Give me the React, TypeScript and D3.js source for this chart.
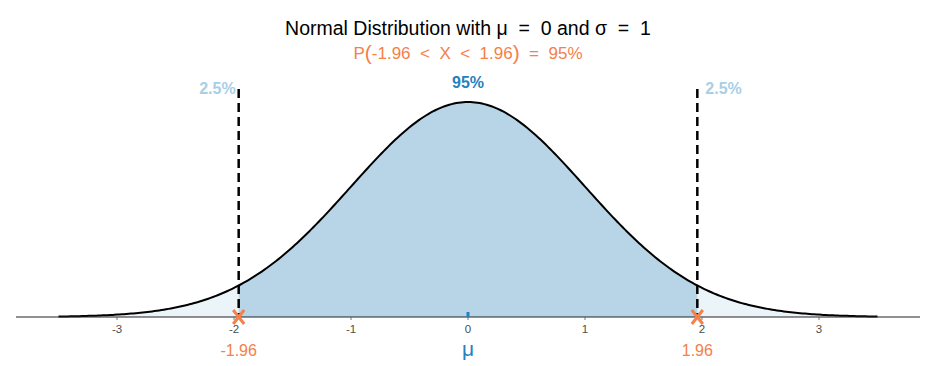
import * as d3 from "d3";

const curveXs = d3.range(-3.5, 3.5001, 0.02);
const critical = [-1.96, 1.96];
const xTicks = [-3, -2, -1, 0, 1, 2, 3];
const tailLabels = ["2.5%", "2.5%"];
const centerLabel = "95%";
const criticalLabels = ["-1.96", "1.96"];

const W = 933;
const H = 366;
const orange = "#f4804a";
const blue = "#2581bd";
const lightBlue = "#a8cfe6";

const dnorm = (x: number) => Math.exp(-0.5 * x * x) / Math.sqrt(2 * Math.PI);

export default function App() {
  const x = d3.scaleLinear().domain([-3, 3]).range([117, 819]);
  const y = d3.scaleLinear().domain([0, dnorm(0)]).range([317, 102]);

  const area = d3
    .area<number>()
    .x((d) => x(d))
    .y0(y(0))
    .y1((d) => y(dnorm(d)));
  const line = d3
    .line<number>()
    .x((d) => x(d))
    .y((d) => y(dnorm(d)));

  const left = curveXs.filter((d) => d <= critical[0]).concat([critical[0]]);
  const mid = [critical[0]].concat(curveXs.filter((d) => d > critical[0] && d < critical[1]), [critical[1]]);
  const right = [critical[1]].concat(curveXs.filter((d) => d >= critical[1]));

  const font = "'Liberation Sans', Arial, sans-serif";

  return (
    <svg width={W} height={H} style={{ position: "absolute", left: 0, top: 0 }} fontFamily={font}>
      <rect width={W} height={H} fill="#fff" />
      <path d={area(left) ?? ""} fill="#ebf4f9" />
      <path d={area(right) ?? ""} fill="#ebf4f9" />
      <path d={area(mid) ?? ""} fill="#b7d5e7" />
      <path d={line(curveXs) ?? ""} fill="none" stroke="#000" strokeWidth={2} />

      <line x1={16} x2={920} y1={y(0)} y2={y(0)} stroke="#222" strokeWidth={1} />
      {xTicks.map((t) => (
        <g key={t} transform={`translate(${x(t)},${y(0)})`}>
          <line y1={0} y2={3} stroke="#555" strokeWidth={0.8} />
          <text y={16} textAnchor="middle" fontSize={11.5} fill="#4d4d4d">
            {t}
          </text>
        </g>
      ))}

      {critical.map((c) => (
        <line
          key={c}
          x1={x(c)}
          x2={x(c)}
          y1={89}
          y2={y(0)}
          stroke="#000"
          strokeWidth={2.5}
          strokeDasharray="9,5"
        />
      ))}

      {critical.map((c) => {
        const cx = x(c);
        const cy = y(0);
        return (
          <g key={"x" + c} stroke={orange} strokeWidth={3}>
            <line x1={cx - 5.5} x2={cx + 5.5} y1={cy - 7} y2={cy + 7} />
            <line x1={cx - 5.5} x2={cx + 5.5} y1={cy + 7} y2={cy - 7} />
          </g>
        );
      })}

      <rect x={x(0) - 1.5} y={y(0) - 5} width={3} height={5} fill={blue} />

      {criticalLabels.map((l, i) => (
        <text key={l} x={x(critical[i])} y={356} textAnchor="middle" fontSize={16} fill={orange}>
          {l}
        </text>
      ))}
      <text x={x(0)} y={356} textAnchor="middle" fontSize={21} fill={blue}>
        μ
      </text>

      <text x={x(critical[0]) - 3} y={94} textAnchor="end" fontSize={16} fontWeight="bold" fill={lightBlue}>
        {tailLabels[0]}
      </text>
      <text x={x(critical[1]) + 8} y={94} textAnchor="start" fontSize={16} fontWeight="bold" fill={lightBlue}>
        {tailLabels[1]}
      </text>
      <text x={x(0)} y={88} textAnchor="middle" fontSize={16} fontWeight="bold" fill={blue}>
        {centerLabel}
      </text>

      <text x={468} y={35} textAnchor="middle" fontSize={19.5} fill="#000" style={{ whiteSpace: "pre" }}>
        {"Normal Distribution with μ  =  0 and σ  =  1"}
      </text>
      <text x={468} y={59} textAnchor="middle" fontSize={17} fill={orange} style={{ whiteSpace: "pre" }}>
        P<tspan fontSize={21} dy={1}>(</tspan>
        <tspan dy={-1}>{"-1.96  <  X  <  1.96"}</tspan>
        <tspan fontSize={21} dy={1}>)</tspan>
        <tspan dy={-1}>{"  =  95%"}</tspan>
      </text>
    </svg>
  );
}
